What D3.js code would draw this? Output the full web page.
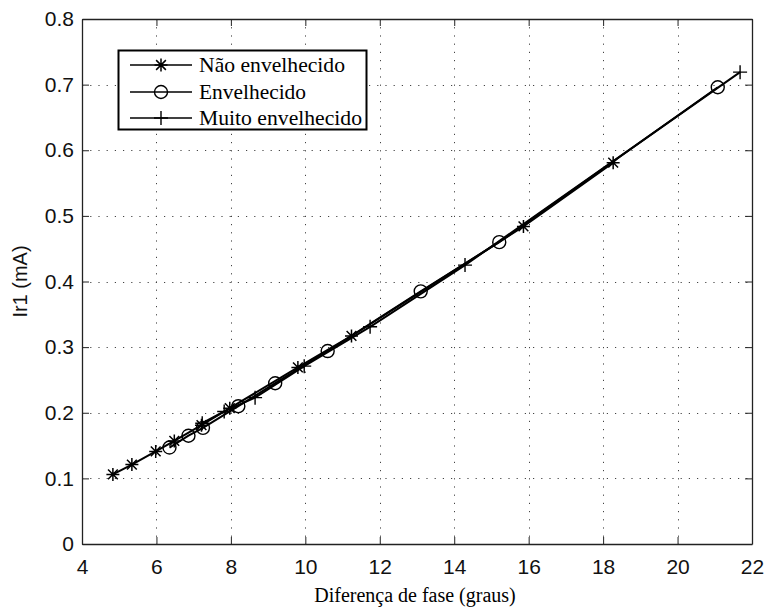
<!DOCTYPE html>
<html>
<head>
<meta charset="utf-8">
<script src="https://cdn.jsdelivr.net/npm/d3@7"></script>
<style>
  body { margin: 0; background: #fff; }
  svg { display: block; }
</style>
</head>
<body>
<svg id="chart" width="765" height="610"></svg>
<script>
// ---- data ----
const xTicks = [4, 6, 8, 10, 12, 14, 16, 18, 20, 22];
const yTicks = [0, 0.1, 0.2, 0.3, 0.4, 0.5, 0.6, 0.7, 0.8];
const yTickLabels = ["0", "0.1", "0.2", "0.3", "0.4", "0.5", "0.6", "0.7", "0.8"];

const seriesNames = ["Não envelhecido", "Envelhecido", "Muito envelhecido"];
const seriesMarkers = ["star", "circle", "plus"];

const naoX = [4.83, 5.34, 5.98, 6.48, 7.21, 7.97, 9.80, 11.24, 15.86, 18.27];
const naoY = [0.106, 0.121, 0.141, 0.157, 0.181, 0.207, 0.269, 0.317, 0.484, 0.581];

const envX = [6.35, 6.86, 7.25, 8.20, 9.19, 10.60, 13.10, 15.21, 21.08];
const envY = [0.147, 0.165, 0.177, 0.210, 0.245, 0.294, 0.385, 0.460, 0.696];

const muitoX = [7.23, 7.82, 8.65, 9.97, 11.74, 14.29, 21.68];
const muitoY = [0.184, 0.202, 0.223, 0.271, 0.331, 0.425, 0.719];

const xLabel = "Diferença de fase (graus)";
const yLabel = "Ir1 (mA)";

// ---- layout ----
const svg = d3.select("#chart");
const pLeft = 82, pRight = 752, pTop = 19, pBottom = 544;

const x = d3.scaleLinear().domain([4, 22]).range([pLeft, pRight]);
const y = d3.scaleLinear().domain([0, 0.8]).range([pBottom, pTop]);

const series = [
  { name: seriesNames[0], marker: seriesMarkers[0], pts: naoX.map((v, i) => [v, naoY[i]]) },
  { name: seriesNames[1], marker: seriesMarkers[1], pts: envX.map((v, i) => [v, envY[i]]) },
  { name: seriesNames[2], marker: seriesMarkers[2], pts: muitoX.map((v, i) => [v, muitoY[i]]) }
];

// grid
const grid = svg.append("g").attr("stroke", "#444").attr("stroke-width", 1)
  .attr("stroke-dasharray", "1.2,7");
grid.selectAll("line.vx").data(xTicks.slice(1, -1)).join("line")
  .attr("x1", d => Math.round(x(d)) + 0.5).attr("x2", d => Math.round(x(d)) + 0.5)
  .attr("y1", pTop).attr("y2", pBottom);
grid.selectAll("line.hy").data(yTicks.slice(1, -1)).join("line")
  .attr("y1", d => Math.round(y(d)) + 0.5).attr("y2", d => Math.round(y(d)) + 0.5)
  .attr("x1", pLeft).attr("x2", pRight);

// axes (inward ticks on all sides)
const tickLen = 7;
const fontAx = "'Liberation Sans', Arial, sans-serif";
const axB = svg.append("g").attr("transform", `translate(0,${pBottom})`)
  .call(d3.axisBottom(x).tickValues(xTicks).tickSizeInner(-tickLen).tickSizeOuter(0).tickPadding(15));
const axT = svg.append("g").attr("transform", `translate(0,${pTop})`)
  .call(d3.axisTop(x).tickValues(xTicks).tickSizeInner(-tickLen).tickSizeOuter(0).tickFormat(""));
const axL = svg.append("g").attr("transform", `translate(${pLeft},0)`)
  .call(d3.axisLeft(y).tickValues(yTicks).tickSizeInner(-tickLen).tickSizeOuter(0).tickPadding(8)
    .tickFormat((d, i) => yTickLabels[i]));
const axR = svg.append("g").attr("transform", `translate(${pRight},0)`)
  .call(d3.axisRight(y).tickValues(yTicks).tickSizeInner(-tickLen).tickSizeOuter(0).tickFormat(""));
[axB, axT, axL, axR].forEach(a => {
  a.selectAll(".domain").attr("stroke", "#222").attr("stroke-width", 1.3);
  a.selectAll(".tick line").attr("stroke", "#222");
  a.selectAll("text").attr("font-family", fontAx).attr("font-size", 21).attr("fill", "#111");
});

// lines
const line = d3.line().x(d => x(d[0])).y(d => y(d[1]));
svg.append("g").selectAll("path").data(series).join("path")
  .attr("d", d => line(d.pts)).attr("fill", "none").attr("stroke", "#000").attr("stroke-width", 2);

// markers
function drawMarker(g, type, cx, cy) {
  const s = 6.5;
  if (type === "circle") {
    g.append("circle").attr("cx", cx).attr("cy", cy).attr("r", 6.5)
      .attr("fill", "none").attr("stroke", "#000").attr("stroke-width", 1.4);
  } else if (type === "plus") {
    const p = 7;
    g.append("path").attr("d", `M${cx - p},${cy}H${cx + p}M${cx},${cy - p}V${cy + p}`)
      .attr("stroke", "#000").attr("stroke-width", 1.4).attr("fill", "none");
  } else {
    const dd = s * 0.75;
    g.append("path").attr("d",
      `M${cx - s},${cy}H${cx + s}M${cx},${cy - s}V${cy + s}` +
      `M${cx - dd},${cy - dd}L${cx + dd},${cy + dd}M${cx - dd},${cy + dd}L${cx + dd},${cy - dd}`)
      .attr("stroke", "#000").attr("stroke-width", 1.5).attr("fill", "none");
  }
}
const mk = svg.append("g");
series.forEach(s => s.pts.forEach(p => drawMarker(mk, s.marker, x(p[0]), y(p[1]))));

// legend
const lg = svg.append("g");
lg.append("rect").attr("x", 118.5).attr("y", 50.5).attr("width", 248).attr("height", 79)
  .attr("fill", "#fff").attr("stroke", "#000").attr("stroke-width", 2);
const rowY = [65, 92, 118];
series.forEach((s, i) => {
  lg.append("line").attr("x1", 130).attr("x2", 192).attr("y1", rowY[i]).attr("y2", rowY[i])
    .attr("stroke", "#000").attr("stroke-width", 1.3);
  drawMarker(lg, s.marker, 161, rowY[i]);
  lg.append("text").attr("x", 199).attr("y", rowY[i]).attr("dy", "0.33em")
    .attr("font-family", "'Liberation Serif', 'Times New Roman', serif").attr("font-size", 21)
    .attr("textLength", i === 0 ? 146 : (i === 1 ? 107 : 163)).attr("lengthAdjust", "spacingAndGlyphs")
    .attr("fill", "#000").text(s.name);
});

// axis labels
svg.append("text").attr("x", 415).attr("y", 602).attr("text-anchor", "middle")
  .attr("font-family", "'Liberation Serif', 'Times New Roman', serif").attr("font-size", 20)
  .attr("fill", "#000").text(xLabel);
svg.append("text").attr("transform", `translate(27,${(pTop + pBottom) / 2}) rotate(-90)`)
  .attr("text-anchor", "middle")
  .attr("font-family", fontAx).attr("font-size", 20).attr("fill", "#111").text(yLabel);
</script>
</body>
</html>
